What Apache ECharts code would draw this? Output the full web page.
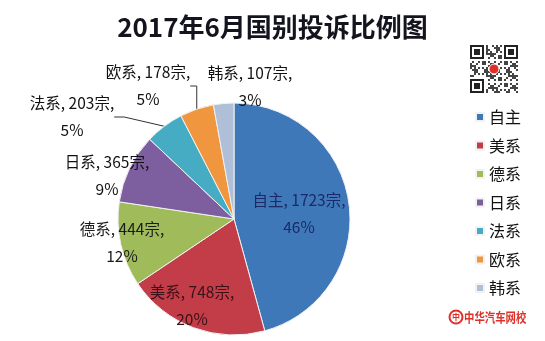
<!DOCTYPE html>
<html><head><meta charset="utf-8">
<script src="https://cdn.jsdelivr.net/npm/echarts@6/dist/echarts.min.js"></script>
<style>html,body{margin:0;padding:0;background:#fff}#c{width:545px;height:341px}</style>
</head><body><div id="c"></div>
<script>
// ---- data ----
const categories = ['自主','美系','德系','日系','法系','欧系','韩系'];
const values = [1723, 748, 444, 365, 203, 178, 107];
const percentLabels = ['46%','20%','12%','9%','5%','5%','3%'];
const titleText = '2017年6月国别投诉比例图';
const unit = '宗';

// ---- styles / layout ----
const colors = ['#3F78B8','#C23D47','#A0BC5A','#7D5FA0','#45ACC3','#F0963F','#AFBFD7'];
const labelColors = ['#1B2A66','#3A1118','#1a1a1a','#111','#111','#111','#111'];
const labelAnchors = [[299,214],[192,306],[122,243],[107,176],[72,117],[148,86],[250,87]];
const leaderShown = [false,false,false,false,true,true,false];
const FONT = '"Noto Sans CJK SC", "Noto Sans", sans-serif';

const chart = echarts.init(document.getElementById('c'), null, {renderer:'canvas'});

// decorative QR code block (image in the original)
const qr = [];
const qx = 470, qy = 45, m = 2, N = 24;
function finder(x, y) {
  qr.push({type:'rect', shape:{x:qx+x*m, y:qy+y*m, width:7*m, height:7*m}, style:{fill:'#222'}});
  qr.push({type:'rect', shape:{x:qx+(x+1)*m, y:qy+(y+1)*m, width:5*m, height:5*m}, style:{fill:'#fff'}});
  qr.push({type:'rect', shape:{x:qx+(x+2)*m, y:qy+(y+2)*m, width:3*m, height:3*m}, style:{fill:'#222'}});
}
for (let i = 0; i < N; i++) for (let j = 0; j < N; j++) {
  const inFinder = (i < 8 && j < 8) || (i < 8 && j >= N-8) || (i >= N-8 && j < 8);
  if (inFinder) continue;
  if (((i * 31 + j * 17 + i * j * 7) % 11) < 5) {
    qr.push({type:'rect', shape:{x:qx+j*m, y:qy+i*m, width:m, height:m}, style:{fill:'#444'}});
  }
}
finder(0,0); finder(N-7,0); finder(0,N-7);
qr.push({type:'circle', shape:{cx:qx+N*m/2, cy:qy+N*m/2, r:5}, style:{fill:'#E0302A', stroke:'#fff', lineWidth:1}});

chart.setOption({
  backgroundColor: '#fff',
  color: colors,
  animation: false,
  title: {
    text: titleText,
    left: 'center',
    top: 9,
    textStyle: {fontFamily: FONT, fontSize: 26, fontWeight: 'bold', color: '#14141E'}
  },
  legend: {
    orient: 'vertical',
    left: 470,
    top: 104,
    icon: 'rect',
    itemWidth: 8,
    itemHeight: 8,
    itemGap: 12.5,
    textStyle: {fontFamily: FONT, fontSize: 16, lineHeight: 16, color: '#111'},
    data: categories
  },
  graphic: [
    {type:'group', children: qr},
    {type:'circle', shape:{cx:456, cy:317, r:6.5}, style:{fill:'#fff', stroke:'#E0302A', lineWidth:2}},
    {type:'text', style:{x:456, y:317, text:'中', fill:'#E0302A', fontSize:8, fontWeight:'bold', align:'center', verticalAlign:'middle', fontFamily: FONT}},
    {type:'text', x:464, y:317, scaleX:0.8, scaleY:1, style:{x:0, y:0, text:'中华汽车网校', fill:'#E0302A', fontSize:13, fontWeight:'bold', verticalAlign:'middle', fontFamily: FONT}}
  ],
  series: [{
    type: 'pie',
    center: [234, 219],
    radius: 116,
    startAngle: 90,
    clockwise: true,
    avoidLabelOverlap: false,
    itemStyle: {borderColor: '#f2f2f2', borderWidth: 1},
    label: {
      position: 'outside',
      fontFamily: FONT,
      fontSize: 15.5,
      lineHeight: 27,
      align: 'center',
      formatter: p => categories[p.dataIndex] + ', ' + values[p.dataIndex] + unit + ',\n' + percentLabels[p.dataIndex]
    },
    labelLine: {show: false, lineStyle: {color: '#333', width: 1}, length: 10, length2: 10},
    labelLayout: params => {
      const a = labelAnchors[params.dataIndex];
      return {x: a[0], y: a[1], align: 'center', verticalAlign: 'middle'};
    },
    emphasis: {disabled: true},
    data: categories.map((c, i) => ({
      name: c,
      value: values[i],
      label: {color: labelColors[i]},
      labelLine: {show: leaderShown[i]}
    }))
  }]
});
</script></body></html>
